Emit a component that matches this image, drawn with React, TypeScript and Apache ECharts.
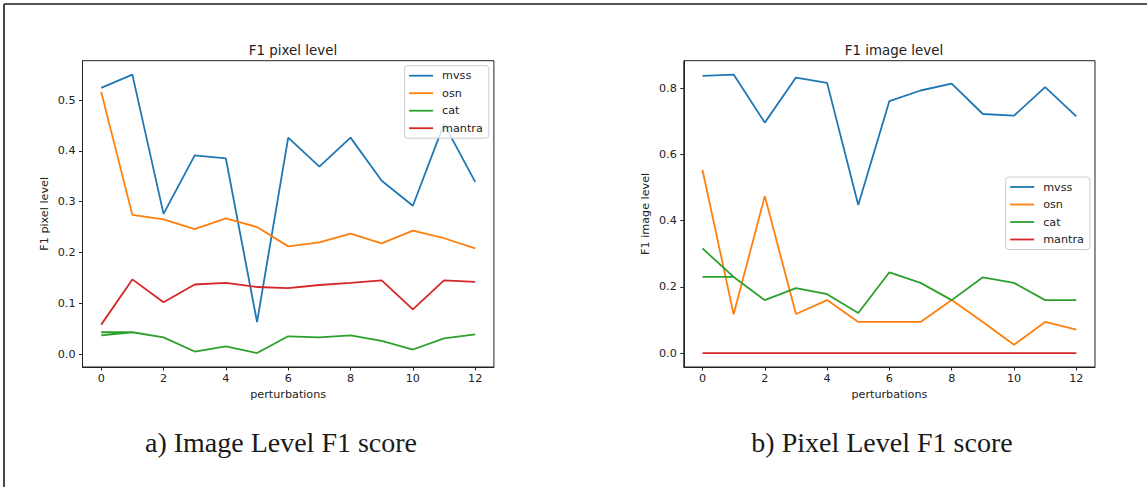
import React, { useEffect, useRef } from "react";
import * as echarts from "echarts";

const perturbations = [0, 1, 2, 3, 4, 5, 6, 7, 8, 9, 10, 11, 12];
const xTicks = [0, 2, 4, 6, 8, 10, 12];
const yTicksPixel = [0, 0.1, 0.2, 0.3, 0.4, 0.5];
const yTicksImage = [0, 0.2, 0.4, 0.6, 0.8];
const seriesNames = ["mvss", "osn", "cat", "mantra"];
const colors = ["#1f77b4", "#ff7f0e", "#2ca02c", "#d62728"];

// F1 pixel level (left chart)
const mvssPixel = [0.524, 0.55, 0.276, 0.391, 0.385, 0.063, 0.426, 0.369, 0.426, 0.341, 0.292, 0.453, 0.339];
const osnPixel = [0.516, 0.274, 0.265, 0.246, 0.267, 0.25, 0.212, 0.22, 0.237, 0.218, 0.243, 0.228, 0.208];
const catPixel = [0.037, 0.043, 0.033, 0.005, 0.015, 0.002, 0.035, 0.033, 0.037, 0.026, 0.009, 0.031, 0.039];
const catPixelFirstStart = 0.043; // cat's line also begins at x=0 with this value
const mantraPixel = [0.058, 0.147, 0.102, 0.137, 0.14, 0.132, 0.13, 0.136, 0.14, 0.145, 0.088, 0.145, 0.142];

// F1 image level (right chart)
const mvssImage = [0.837, 0.841, 0.696, 0.832, 0.816, 0.447, 0.761, 0.793, 0.814, 0.722, 0.717, 0.803, 0.715];
const osnImage = [0.553, 0.117, 0.474, 0.118, 0.16, 0.094, 0.094, 0.094, 0.16, 0.094, 0.025, 0.094, 0.071];
const catImage = [0.316, 0.23, 0.16, 0.196, 0.178, 0.121, 0.244, 0.212, 0.16, 0.229, 0.212, 0.16, 0.16];
const catImageFirstStart = 0.23;
const mantraImage = [0, 0, 0, 0, 0, 0, 0, 0, 0, 0, 0, 0, 0];

const pairs = (vals: number[]) => perturbations.map((x, i) => [x, vals[i]]);
const catPairs = (vals: number[], firstStart: number) => [
  [0, firstStart],
  [1, vals[1]],
  ...pairs(vals),
];

const FONT = "DejaVu Sans";
const INK = "#222";

function xAxisFor(gridIndex: number) {
  return {
    type: "value",
    gridIndex,
    min: -0.6,
    max: 12.6,
    name: "perturbations",
    nameLocation: "middle",
    nameGap: 22,
    nameTextStyle: { fontFamily: FONT, fontSize: 11.2, color: INK },
    axisLine: { show: true, onZero: false, lineStyle: { color: INK, width: 1 } },
    axisTick: { show: true, length: 3.5, customValues: xTicks, lineStyle: { color: INK } },
    axisLabel: { customValues: xTicks, margin: 6, fontFamily: FONT, fontSize: 11.2, color: INK },
    splitLine: { show: false },
  };
}

function yAxisFor(gridIndex: number, min: number, max: number, ticks: number[], name: string) {
  return {
    type: "value",
    gridIndex,
    min,
    max,
    name,
    nameLocation: "middle",
    nameGap: 33,
    nameTextStyle: { fontFamily: FONT, fontSize: 11.2, color: INK },
    axisLine: { show: true, onZero: false, lineStyle: { color: INK, width: 1 } },
    axisTick: { show: true, length: 3.5, customValues: ticks, lineStyle: { color: INK } },
    axisLabel: {
      customValues: ticks,
      margin: 7,
      fontFamily: FONT,
      fontSize: 11.2,
      color: INK,
      formatter: (v: number) => v.toFixed(1),
    },
    splitLine: { show: false },
  };
}

function lineSeries(name: string, color: string, data: number[][], idx: number) {
  return {
    type: "line",
    name,
    xAxisIndex: idx,
    yAxisIndex: idx,
    data,
    symbol: "none",
    lineStyle: { color, width: 1.8 },
    itemStyle: { color },
  };
}

function legendFor(left: number, top: number) {
  return {
    orient: "vertical",
    left,
    top,
    data: seriesNames,
    icon: "rect",
    itemWidth: 24,
    itemHeight: 1.8,
    itemGap: 5.5,
    padding: [4, 6, 4, 4.5],
    backgroundColor: "rgba(255,255,255,0.8)",
    borderColor: "#cccccc",
    borderWidth: 1,
    borderRadius: 3,
    textStyle: { fontFamily: FONT, fontSize: 11.2, color: INK, lineHeight: 12, padding: [0, 0, 0, 4] },
    selectedMode: false,
  };
}

export default function App() {
  const ref = useRef<HTMLDivElement>(null);
  useEffect(() => {
    if (!ref.current) return;
    const chart = echarts.init(ref.current, undefined, { renderer: "svg" });
    const leftData = [pairs(mvssPixel), pairs(osnPixel), catPairs(catPixel, catPixelFirstStart), pairs(mantraPixel)];
    const rightData = [pairs(mvssImage), pairs(osnImage), catPairs(catImage, catImageFirstStart), pairs(mantraImage)];
    const option: any = {
      animation: false,
      backgroundColor: "#ffffff",
      title: [
        {
          text: "F1 pixel level",
          left: 288,
          top: 39,
          textAlign: "center",
          textStyle: { fontFamily: FONT, fontSize: 13.4, fontWeight: "normal", color: INK },
        },
        {
          text: "F1 image level",
          left: 889,
          top: 39,
          textAlign: "center",
          textStyle: { fontFamily: FONT, fontSize: 13.4, fontWeight: "normal", color: INK },
        },
      ],
      legend: [legendFor(404.6, 65.7), legendFor(1005.7, 177)],
      grid: [
        { left: 82.5, top: 60.7, width: 411.4, height: 306.3, show: true, borderColor: INK, borderWidth: 1, containLabel: false },
        { left: 683.8, top: 60.7, width: 411.2, height: 306.3, show: true, borderColor: INK, borderWidth: 1, containLabel: false },
      ],
      xAxis: [xAxisFor(0), xAxisFor(1)],
      yAxis: [
        yAxisFor(0, -0.0254, 0.5774, yTicksPixel, "F1 pixel level"),
        yAxisFor(1, -0.042, 0.883, yTicksImage, "F1 image level"),
      ],
      series: [
        ...seriesNames.map((n, i) => lineSeries(n, colors[i], leftData[i], 0)),
        ...seriesNames.map((n, i) => lineSeries(n, colors[i], rightData[i], 1)),
      ],
      graphic: [
        { type: "line", shape: { x1: 4, y1: 4, x2: 4, y2: 487 }, style: { stroke: "#1a1a1a", lineWidth: 1.6 } },
        { type: "line", shape: { x1: 4, y1: 4, x2: 1147, y2: 4 }, style: { stroke: "#1a1a1a", lineWidth: 1.6 } },
        {
          type: "text",
          x: 281,
          y: 442,
          style: {
            text: "a) Image Level F1 score",
            fontFamily: "Liberation Serif",
            fontSize: 28,
            fill: "#1a1a1a",
            align: "center",
            verticalAlign: "middle",
          },
        },
        {
          type: "text",
          x: 882,
          y: 442,
          style: {
            text: "b) Pixel Level F1 score",
            fontFamily: "Liberation Serif",
            fontSize: 28,
            fill: "#1a1a1a",
            align: "center",
            verticalAlign: "middle",
          },
        },
      ],
    };
    chart.setOption(option);
    return () => chart.dispose();
  }, []);
  return (
    <div
      ref={ref}
      style={{ position: "fixed", left: 0, top: 0, width: 1147, height: 487, background: "#fff" }}
    />
  );
}
